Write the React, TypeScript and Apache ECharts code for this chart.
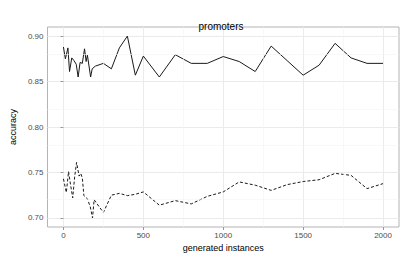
import React, { useEffect, useRef } from "react";
import * as echarts from "echarts";

const solidX = [0, 12, 28, 38, 52, 66, 80, 92, 104, 118, 132, 142, 150, 170, 180, 200, 250, 300, 350, 400, 450, 500, 600, 700, 800, 900, 1000, 1100, 1200, 1300, 1400, 1500, 1600, 1700, 1800, 1900, 2000];
const solidY = [0.888, 0.875, 0.887, 0.861, 0.876, 0.873, 0.869, 0.855, 0.871, 0.870, 0.886, 0.872, 0.879, 0.855, 0.864, 0.867, 0.870, 0.864, 0.887, 0.900, 0.857, 0.878, 0.855, 0.8795, 0.870, 0.870, 0.8775, 0.872, 0.861, 0.889, 0.873, 0.857, 0.868, 0.892, 0.876, 0.870, 0.870];

const dashedX = [0, 18, 32, 44, 58, 70, 82, 98, 108, 118, 128, 150, 168, 182, 192, 208, 250, 300, 350, 400, 450, 500, 600, 700, 800, 900, 1000, 1100, 1200, 1300, 1400, 1500, 1600, 1700, 1800, 1900, 2000];
const dashedY = [0.743, 0.728, 0.751, 0.737, 0.722, 0.745, 0.761, 0.746, 0.749, 0.744, 0.7245, 0.721, 0.712, 0.700, 0.720, 0.716, 0.706, 0.725, 0.727, 0.7245, 0.726, 0.7286, 0.714, 0.719, 0.7154, 0.7237, 0.7286, 0.7396, 0.736, 0.7303, 0.7366, 0.740, 0.742, 0.749, 0.7468, 0.7322, 0.7377];

const xTicks = [0, 500, 1000, 1500, 2000];
const xMinor = [250, 750, 1250, 1750];
const yTicks = [0.7, 0.75, 0.8, 0.85, 0.9];
const yMinor = [0.725, 0.775, 0.825, 0.875];

const FONT = "Liberation Sans";

export default function App() {
  const ref = useRef<HTMLDivElement>(null);
  useEffect(() => {
    const chart = echarts.init(ref.current!, null, { renderer: "svg" });
    const minorLines = [
      ...xMinor.map((v) => ({ xAxis: v })),
      ...yMinor.map((v) => ({ yAxis: v })),
    ];
    chart.setOption({
      animation: false,
      title: {
        text: "promoters",
        left: 216,
        textAlign: "center",
        top: 16,
        textStyle: { fontFamily: FONT, fontSize: 10, fontWeight: "normal", color: "#000" },
      },
      grid: {
        left: 33,
        right: 8,
        top: 27,
        bottom: 32,
        show: true,
        borderColor: "#b3b3b3",
        borderWidth: 1,
        backgroundColor: "#fff",
      },
      xAxis: {
        type: "value",
        min: -100,
        max: 2100,
        name: "generated instances",
        nameLocation: "middle",
        nameGap: 10,
        nameTextStyle: { fontFamily: FONT, fontSize: 9, color: "#000" },
        axisLine: { show: false },
        axisTick: { show: true, length: 3, lineStyle: { color: "#999" }, customValues: xTicks },
        axisLabel: {
          customValues: xTicks,
          fontFamily: FONT,
          fontSize: 8,
          color: "#4d4d4d",
          margin: 4,
          formatter: (v: number) => String(v),
        },
        splitLine: { show: true, lineStyle: { color: "#ebebeb", width: 1 } },
      },
      yAxis: {
        type: "value",
        min: 0.69,
        max: 0.91,
        name: "accuracy",
        nameLocation: "middle",
        nameGap: 27,
        nameTextStyle: { fontFamily: FONT, fontSize: 9, color: "#000" },
        axisLine: { show: false },
        axisTick: { show: true, length: 3, lineStyle: { color: "#999" }, customValues: yTicks },
        axisLabel: {
          customValues: yTicks,
          fontFamily: FONT,
          fontSize: 8,
          color: "#4d4d4d",
          margin: 4,
          formatter: (v: number) => v.toFixed(2),
        },
        splitLine: { show: true, lineStyle: { color: "#ebebeb", width: 1 } },
      },
      series: [
        {
          type: "line",
          data: [],
          silent: true,
          markLine: {
            silent: true,
            symbol: "none",
            label: { show: false },
            lineStyle: { color: "#f4f4f4", width: 0.6, type: "solid" },
            data: minorLines,
          },
        },
        {
          type: "line",
          data: solidX.map((x, i) => [x, solidY[i]]),
          showSymbol: false,
          lineStyle: { color: "#1a1a1a", width: 1, type: "solid" },
        },
        {
          type: "line",
          data: dashedX.map((x, i) => [x, dashedY[i]]),
          showSymbol: false,
          lineStyle: { color: "#1a1a1a", width: 1, type: [3, 2] },
        },
      ],
    });
    return () => chart.dispose();
  }, []);
  return (
    <div
      ref={ref}
      style={{ position: "absolute", left: 0, top: 0, width: 407, height: 259 }}
    />
  );
}
